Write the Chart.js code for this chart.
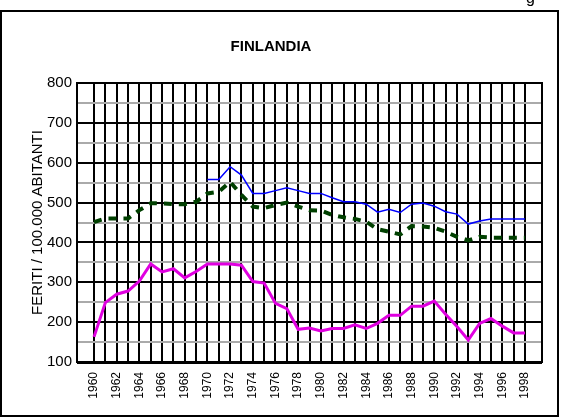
<!DOCTYPE html>
<html>
<head>
<meta charset="utf-8">
<script src="https://cdn.jsdelivr.net/npm/chart.js@4.4.1/dist/chart.umd.min.js"></script>
<style>
  body { margin: 0; background: #fff; }
  #wrap { position: relative; width: 562px; height: 419px; overflow: hidden; }
  #chart { position: absolute; left: 0; top: 0; }
  .frame { position: absolute; left: 0; top: 10px; width: 555px; height: 403px; border: 2px solid #000; pointer-events: none; }
  .cut { position: absolute; left: 526px; top: -11px; font: 16px "Liberation Sans", Arial, sans-serif; }
</style>
</head>
<body>
<div id="wrap">
  <canvas id="chart" width="562" height="419"></canvas>
  <div class="frame"></div>
  <div class="cut">g</div>
</div>
<script>
// Data

const years = [1960, 1961, 1962, 1963, 1964, 1965, 1966, 1967, 1968, 1969,
  1970, 1971, 1972, 1973, 1974, 1975, 1976, 1977, 1978, 1979,
  1980, 1981, 1982, 1983, 1984, 1985, 1986, 1987, 1988, 1989,
  1990, 1991, 1992, 1993, 1994, 1995, 1996, 1997, 1998];

const serieBlu = [null, null, null, null, null, null, null, null, null, null,
  558, 558, 590, 569, 523, 523, 530, 537, 530, 523,
  523, 512, 502, 502, 496, 476, 483, 475, 496, 499,
  491, 477, 471, 446, 454, 459, 459, 459, 459];

const serieVerde = [451, 460, 460, 460, 481, 498, 498, 496, 496, 502,
  523, 527, 552, 519, 490, 486, 494, 500, 490, 481,
  480, 469, 463, 459, 452, 433, 427, 420, 441, 440,
  437, 427, 414, 405, 414, 412, 412, 412, 412];

const serieMagenta = [163, 249, 270, 278, 303, 346, 326, 334, 311, 327,
  346, 346, 346, 343, 302, 298, 247, 234, 182, 185,
  178, 184, 184, 193, 184, 197, 217, 217, 240, 240,
  253, 220, 189, 155, 197, 209, 190, 173, 173];

const yTicks = [100, 200, 300, 400, 500, 600, 700, 800];

const toPoints = (vals) => years.map((y, i) => ({ x: y, y: vals[i] }));

Chart.defaults.font.family = "'Liberation Sans', Arial, sans-serif";
Chart.defaults.color = "#000";

// box round the plot area
const plotBorder = {
  id: "plotBorder",
  afterDraw(chart) {
    const { ctx, chartArea: a } = chart;
    ctx.save();
    ctx.strokeStyle = "#000";
    ctx.lineWidth = 2;
    ctx.strokeRect(a.left, a.top, a.right - a.left, a.bottom - a.top);
    ctx.lineWidth = 3;
    ctx.beginPath();
    ctx.moveTo(a.left, a.bottom + 0.5);
    ctx.lineTo(a.right, a.bottom + 0.5);
    ctx.stroke();
    ctx.restore();
  }
};

const chart = document.querySelector("#chart").getContext("2d");

new Chart(chart, {
  type: "line",
  data: {
    datasets: [
      {
        label: "Serie 1",
        data: toPoints(serieBlu),
        borderColor: "#0000ff",
        borderWidth: 1.5,
        pointRadius: 0,
        tension: 0,
      },
      {
        label: "Serie 2",
        data: toPoints(serieVerde),
        borderColor: "#004000",
        borderWidth: 4,
        borderDash: [8, 7],
        pointRadius: 0,
        tension: 0,
      },
      {
        label: "Serie 3",
        data: toPoints(serieMagenta),
        borderColor: "#e000e0",
        borderWidth: 3,
        pointRadius: 0,
        tension: 0,
      }
    ]
  },
  options: {
    responsive: false,
    animation: false,
    devicePixelRatio: 1,
    layout: { padding: { left: 0, top: 12, right: 20, bottom: 0 } },
    plugins: {
      legend: { display: false },
      tooltip: { enabled: false },
      title: {
        display: true,
        text: "FINLANDIA",
        font: { size: 15, weight: "bold" },
        padding: { top: 26, bottom: 27 },
      }
    },
    scales: {
      x: {
        type: "linear",
        min: 1958.5,
        max: 1999.5,
        // one tick per year of the data
        afterBuildTicks(scale) { scale.ticks = years.map((v) => ({ value: v })); },
        afterFit(scale) { scale.height = 57; },
        border: { display: false },
        grid: {
          drawTicks: false,
          lineWidth: 2,
          color: "#000"
        },
        ticks: {
          autoSkip: false,
          minRotation: 90,
          maxRotation: 90,
          padding: 10,
          font: { size: 12 },
          callback: (v) => (v % 2 === 0 ? String(v) : "")
        }
      },
      y: {
        min: 100,
        max: 800,
        afterFit(scale) { scale.width = 77; },
        border: { display: false },
        grid: {
          drawTicks: false,
          lineWidth: 2,
          color: (c) => (yTicks.includes(c.tick.value) ? "#000" : "#aaa")
        },
        ticks: {
          stepSize: 50,
          autoSkip: false,
          padding: 5,
          font: { size: 15 },
          callback: (v) => (yTicks.includes(v) ? String(v) : "")
        },
        title: {
          display: true,
          text: "FERITI / 100.000 ABITANTI",
          font: { size: 15 },
          padding: { top: 29, bottom: 0 }
        }
      }
    }
  },
  plugins: [plotBorder]
});
</script>
</body>
</html>
